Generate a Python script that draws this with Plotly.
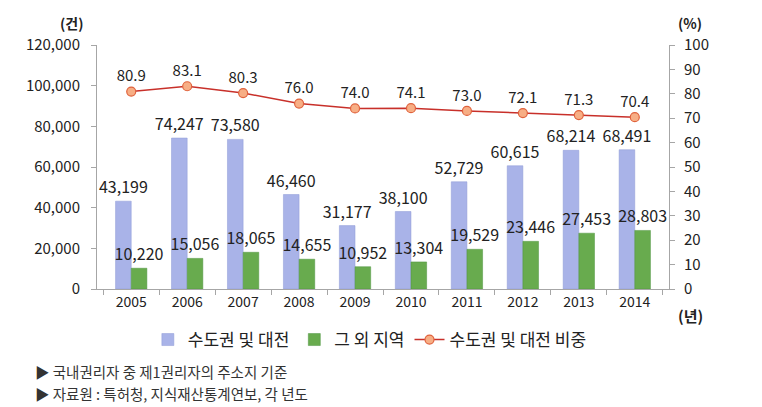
import plotly.graph_objects as go

years = ["2005", "2006", "2007", "2008", "2009", "2010", "2011", "2012", "2013", "2014"]
capital = [43199, 74247, 73580, 46460, 31177, 38100, 52729, 60615, 68214, 68491]
other = [10220, 15056, 18065, 14655, 10952, 13304, 19529, 23446, 27453, 28803]
share = [80.9, 83.1, 80.3, 76.0, 74.0, 74.1, 73.0, 72.1, 71.3, 70.4]

name_capital = "수도권 및 대전"
name_other = "그 외 지역"
name_share = "수도권 및 대전 비중"
footnotes = ["▶ 국내권리자 중 제1권리자의 주소지 기준", "▶ 자료원 : 특허청, 지식재산통계연보, 각 년도"]

FONT = "Noto Sans CJK KR"
TXT = "#222222"

fig = go.Figure()
fig.add_trace(go.Bar(
    x=years, y=capital, name=name_capital,
    marker=dict(color="#A9B3E8", line=dict(color="#8F9AD6", width=0.5)),
    text=[f"{v:,}" for v in capital], textposition="outside",
    constraintext="none", cliponaxis=False,
    textfont=dict(size=16, color=TXT, family=FONT),
))
fig.add_trace(go.Bar(
    x=years, y=other, name=name_other,
    marker=dict(color="#68AB4E", line=dict(color="#4E9540", width=0.5)),
    text=[f"{v:,}" for v in other], textposition="outside",
    constraintext="none", cliponaxis=False,
    textfont=dict(size=16, color=TXT, family=FONT),
))
fig.add_trace(go.Scatter(
    x=years, y=share, name=name_share, yaxis="y2",
    mode="lines+markers+text",
    line=dict(color="#C8302A", width=1.5),
    marker=dict(size=9, color="#F7AE85", line=dict(color="#E0623C", width=1.2)),
    text=[f"{v:.1f}" for v in share], textposition="top center",
    textfont=dict(size=15, color=TXT, family=FONT),
    cliponaxis=False,
))

fig.update_layout(
    width=754, height=399,
    margin=dict(l=89, r=93, t=37, b=118),
    paper_bgcolor="white", plot_bgcolor="white",
    font=dict(family=FONT, color=TXT, size=13),
    barmode="group", bargap=0.44, bargroupgap=0,
    showlegend=True,
    legend=dict(orientation="h", x=0.477, xanchor="center", y=-0.209, yanchor="middle",
                font=dict(size=17, family=FONT, color=TXT), itemwidth=30,
                traceorder="normal", tracegroupgap=0),
    xaxis=dict(
        showline=True, linecolor="#A6A6A6", linewidth=1,
        ticks="outside", tickson="boundaries", ticklen=5, tickcolor="#A6A6A6",
        tickfont=dict(size=14, family=FONT, color=TXT), showgrid=False,
    ),
    yaxis=dict(
        range=[0, 120000], dtick=20000, tickformat=",d",
        showline=True, linecolor="#A6A6A6", linewidth=1,
        ticks="outside", ticklen=5, tickcolor="#A6A6A6", ticklabelstandoff=8,
        tickfont=dict(size=15, family=FONT, color=TXT), showgrid=False, zeroline=False,
    ),
    yaxis2=dict(
        range=[0, 100], dtick=10, overlaying="y", side="right",
        showline=True, linecolor="#A6A6A6", linewidth=1,
        ticks="outside", ticklen=5, tickcolor="#A6A6A6", ticklabelstandoff=6,
        tickfont=dict(size=15, family=FONT, color=TXT), showgrid=False, zeroline=False,
    ),
)

fig.add_annotation(text="<b>(건)</b>", xref="paper", yref="paper", x=-0.044, y=1.09,
                   xanchor="center", yanchor="middle", showarrow=False,
                   font=dict(size=14, family=FONT, color=TXT))
fig.add_annotation(text="<b>(%)</b>", xref="paper", yref="paper", x=1.037, y=1.09,
                   xanchor="center", yanchor="middle", showarrow=False,
                   font=dict(size=14, family=FONT, color=TXT))
fig.add_annotation(text="<b>(년)</b>", xref="paper", yref="paper", x=1.037, y=-0.11,
                   xanchor="center", yanchor="middle", showarrow=False,
                   font=dict(size=15, family=FONT, color=TXT))
for i, t in enumerate(footnotes):
    fig.add_annotation(text=t, xref="paper", yref="paper", x=-0.112, y=-0.34 - i * 0.088,
                       xanchor="left", yanchor="middle", showarrow=False,
                       font=dict(size=14.5, family=FONT, color="#333333"))

fig.write_html("out.html")
